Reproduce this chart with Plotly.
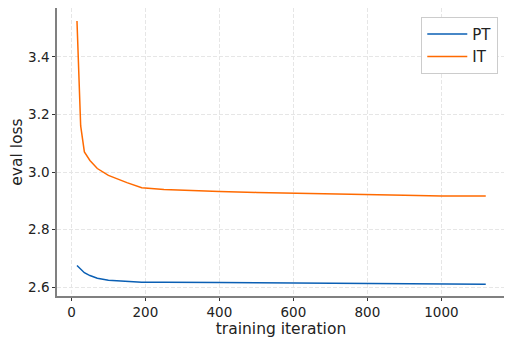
import plotly.graph_objects as go

# evaluation steps and losses
steps = [15, 25, 35, 50, 70, 100, 150, 190, 250, 300, 400, 500, 600, 700, 800, 900, 1000, 1120]
pt_loss = [2.675, 2.662, 2.650, 2.640, 2.631, 2.624, 2.619, 2.617, 2.617, 2.616, 2.616, 2.615, 2.614, 2.613, 2.612, 2.611, 2.610, 2.610]
it_loss = [3.525, 3.160, 3.070, 3.040, 3.012, 2.988, 2.963, 2.945, 2.939, 2.936, 2.932, 2.929, 2.926, 2.923, 2.921, 2.919, 2.917, 2.917]

fig = go.Figure()
fig.add_trace(go.Scatter(x=steps, y=pt_loss, name="PT", mode="lines",
                         line=dict(color="#0a5fb4", width=1.5)))
fig.add_trace(go.Scatter(x=steps, y=it_loss, name="IT", mode="lines",
                         line=dict(color="#ff6a00", width=1.5)))

axis_style = dict(showgrid=True, gridcolor="#e6e6e6", griddash="4px,2px", gridwidth=1,
                  showline=True, linecolor="#808080", linewidth=1.5,
                  ticks="outside", tickcolor="#333", ticklen=3, automargin=False,
                  zeroline=False, tickfont=dict(size=13.5, color="#222"))

# the page body adds an 8px offset, so margins are shifted to compensate
fig.update_layout(
    width=512, height=345,
    margin=dict(l=49, r=15, t=0, b=57),
    paper_bgcolor="white", plot_bgcolor="white",
    font=dict(family="DejaVu Sans", color="#222"),
    legend=dict(x=0.985, y=0.97, xanchor="right", yanchor="top",
                bordercolor="#cccccc", borderwidth=1, bgcolor="white",
                font=dict(size=15), itemwidth=40),
)
fig.update_xaxes(range=[-39, 1172], tickvals=[0, 200, 400, 600, 800, 1000],
                 title=dict(text="training iteration", font=dict(size=15.5), standoff=4), **axis_style)
fig.update_yaxes(range=[2.569, 3.570], tickvals=[2.6, 2.8, 3.0, 3.2, 3.4], tickformat=".1f",
                 title=dict(text="eval loss", font=dict(size=15.5), standoff=6), **axis_style)

fig.write_html("out.html")
